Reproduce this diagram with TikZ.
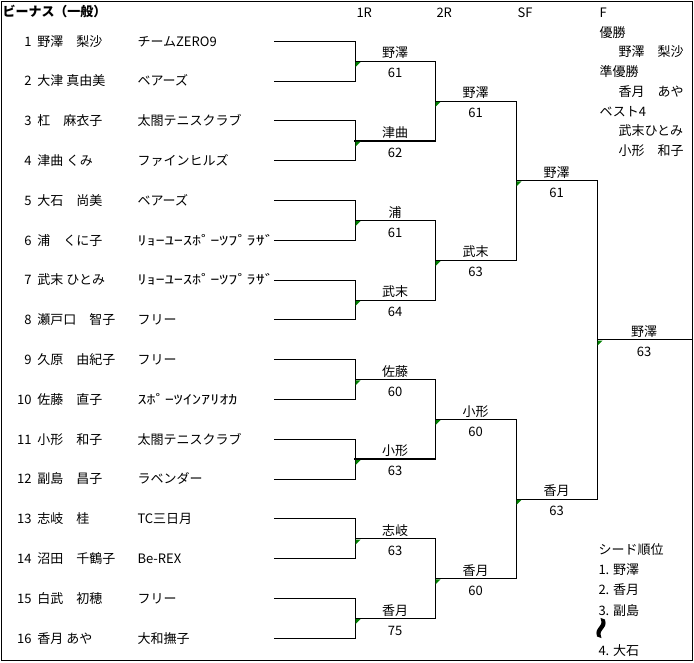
\documentclass[tikz,border=0pt]{standalone}
\usepackage{fontspec}
\setmainfont{Noto Sans CJK JP}
\newfontfamily\hankaku[FakeStretch=1.4]{Noto Sans CJK JP}
\newfontfamily\symfont[FakeBold=4]{DejaVu Sans}
\usetikzlibrary{calc}
\definecolor{markgreen}{rgb}{0,0.5,0}
\begin{document}
\begin{tikzpicture}[x=1pt,y=-1pt,line width=1pt,line cap=rect,
	every node/.style={inner sep=0pt,text height=10.5pt,text depth=1pt,font=\fontsize{13}{15}\selectfont},
	lbl/.style={anchor=west},heavy/.style={line width=2pt}]
	\useasboundingbox (0,0) rectangle (694,662);
	\draw (1.5,1.5) rectangle (692.5,660.5);
	\node[lbl,font=\fontsize{13}{15}\selectfont\bfseries] (title) at (2,12) {ビーナス（一般）};
	\node[lbl] (hd1) at (356,13) {1R};\node[lbl] (hd2) at (436,13) {2R};\node[lbl] (hd3) at (517,13) {SF};\node[lbl] (hd4) at (599,13) {F};
	% players
	\foreach \nm/\cl [count=\i] in {野澤　梨沙/チームZERO9,大津 真由美/ベアーズ,杠　麻衣子/太閤テニスクラブ,津曲 くみ/ファインヒルズ,大石　尚美/ベアーズ,浦　くに子/{\hankaku ﾘｮｰﾕｰｽﾎﾟｰﾂﾌﾟﾗｻﾞ},武末 ひとみ/{\hankaku ﾘｮｰﾕｰｽﾎﾟｰﾂﾌﾟﾗｻﾞ},瀬戸口　智子/フリー,久原　由紀子/フリー,佐藤　直子/{\hankaku ｽﾎﾟｰﾂｲﾝｱﾘｵｶ},小形　和子/太閤テニスクラブ,副島　昌子/ラベンダー,志岐　桂/TC三日月,沼田　千鶴子/Be-REX,白武　初穂/フリー,香月 あや/大和撫子}{
		\node[anchor=east] (num\i) at (32,{41.3+39.8*(\i-1)}) {\i};
		\node[lbl] (nm\i) at (37,{41.3+39.8*(\i-1)}) {\nm};
		\node[lbl] (cl\i) at (137,{41.3+39.8*(\i-1)}) {\cl};
		\coordinate (s\i) at (274,{41.3+39.8*(\i-1)});\coordinate (e\i) at (355,{41.3+39.8*(\i-1)});
		\draw (s\i) -- (e\i);
	}
	% 1R
	\foreach \w/\sc [count=\k] in {野澤/61,津曲/62,浦/61,武末/64,佐藤/60,小形/63,志岐/63,香月/75}{
		\pgfmathtruncatemacro\ta{2*\k-1}\pgfmathtruncatemacro\tb{2*\k}
		\coordinate (a\k) at ($(e\ta)!.5!(e\tb)$);\coordinate (b\k) at ($(a\k)+(80,0)$);
		\draw (e\ta) -- (e\tb) (a\k) -- (b\k);
		\node (wa\k) at ($(a\k)!.5!(b\k)+(0,-8)$) {\w};
		\node (sa\k) at ($(a\k)!.5!(b\k)+(0,12)$) {\sc};
	}
	\draw[heavy] (a2) -- (b2) (a6) -- (b6);
	% 2R
	\foreach \w/\sc [count=\k] in {野澤/61,武末/63,小形/60,香月/60}{
		\pgfmathtruncatemacro\ta{2*\k-1}\pgfmathtruncatemacro\tb{2*\k}
		\coordinate (c\k) at ($(b\ta)!.5!(b\tb)$);\coordinate (d\k) at ($(c\k)+(81,0)$);
		\draw (b\ta) -- (b\tb) (c\k) -- (d\k);
		\node (wc\k) at ($(c\k)!.5!(d\k)+(0,-8)$) {\w};
		\node (sc\k) at ($(c\k)!.5!(d\k)+(0,12)$) {\sc};
	}
	% SF
	\foreach \w/\sc [count=\k] in {野澤/61,香月/63}{
		\pgfmathtruncatemacro\ta{2*\k-1}\pgfmathtruncatemacro\tb{2*\k}
		\coordinate (f\k) at ($(d\ta)!.5!(d\tb)$);\coordinate (g\k) at ($(f\k)+(81,0)$);
		\draw (d\ta) -- (d\tb) (f\k) -- (g\k);
		\node (wf\k) at ($(f\k)!.5!(g\k)+(0,-8)$) {\w};
		\node (sf\k) at ($(f\k)!.5!(g\k)+(0,12)$) {\sc};
	}
	% F
	\coordinate (h1) at ($(g1)!.5!(g2)$);\coordinate (k1) at ($(h1)+(94,0)$);
	\draw (g1) -- (g2) (h1) -- (k1);
	\node (wh1) at ($(h1)!.5!(k1)+(0,-8)$) {野澤};\node (sh1) at ($(h1)!.5!(k1)+(0,12)$) {63};
	\foreach \c in {a1,a2,a3,a4,a5,a6,a7,a8,c1,c2,c3,c4,f1,f2,h1}
		\fill[markgreen] (\c) ++(0.5,0.8) -- ++(5,0) -- ++(-5,5) -- cycle;
	% results
	\node[lbl] (rk1) at (599,33) {優勝};\node[lbl] (rk1n) at (618,52) {野澤　梨沙};
	\node[lbl] (rk2) at (599,72) {準優勝};\node[lbl] (rk2n) at (618,92) {香月　あや};
	\node[lbl] (rk3) at (599,112) {ベスト4};\node[lbl] (rk3a) at (618,131) {武末ひとみ};\node[lbl] (rk3b) at (618,151) {小形　和子};
	% seeds
	\node[lbl] (sd) at (598,550) {シード順位};
	\node[lbl] (sd1) at (598,570) {1. 野澤};\node[lbl] (sd2) at (598,590) {2. 香月};\node[lbl] (sd3) at (598,611) {3. 副島};
	\node[text height=,text depth=,rotate=-20,font=\symfont\bfseries\fontsize{28}{28}\selectfont] (sdgap) at (601,628) {≀};
	\node[lbl] (sd4) at (598,651) {4. 大石};
\end{tikzpicture}
\end{document}
